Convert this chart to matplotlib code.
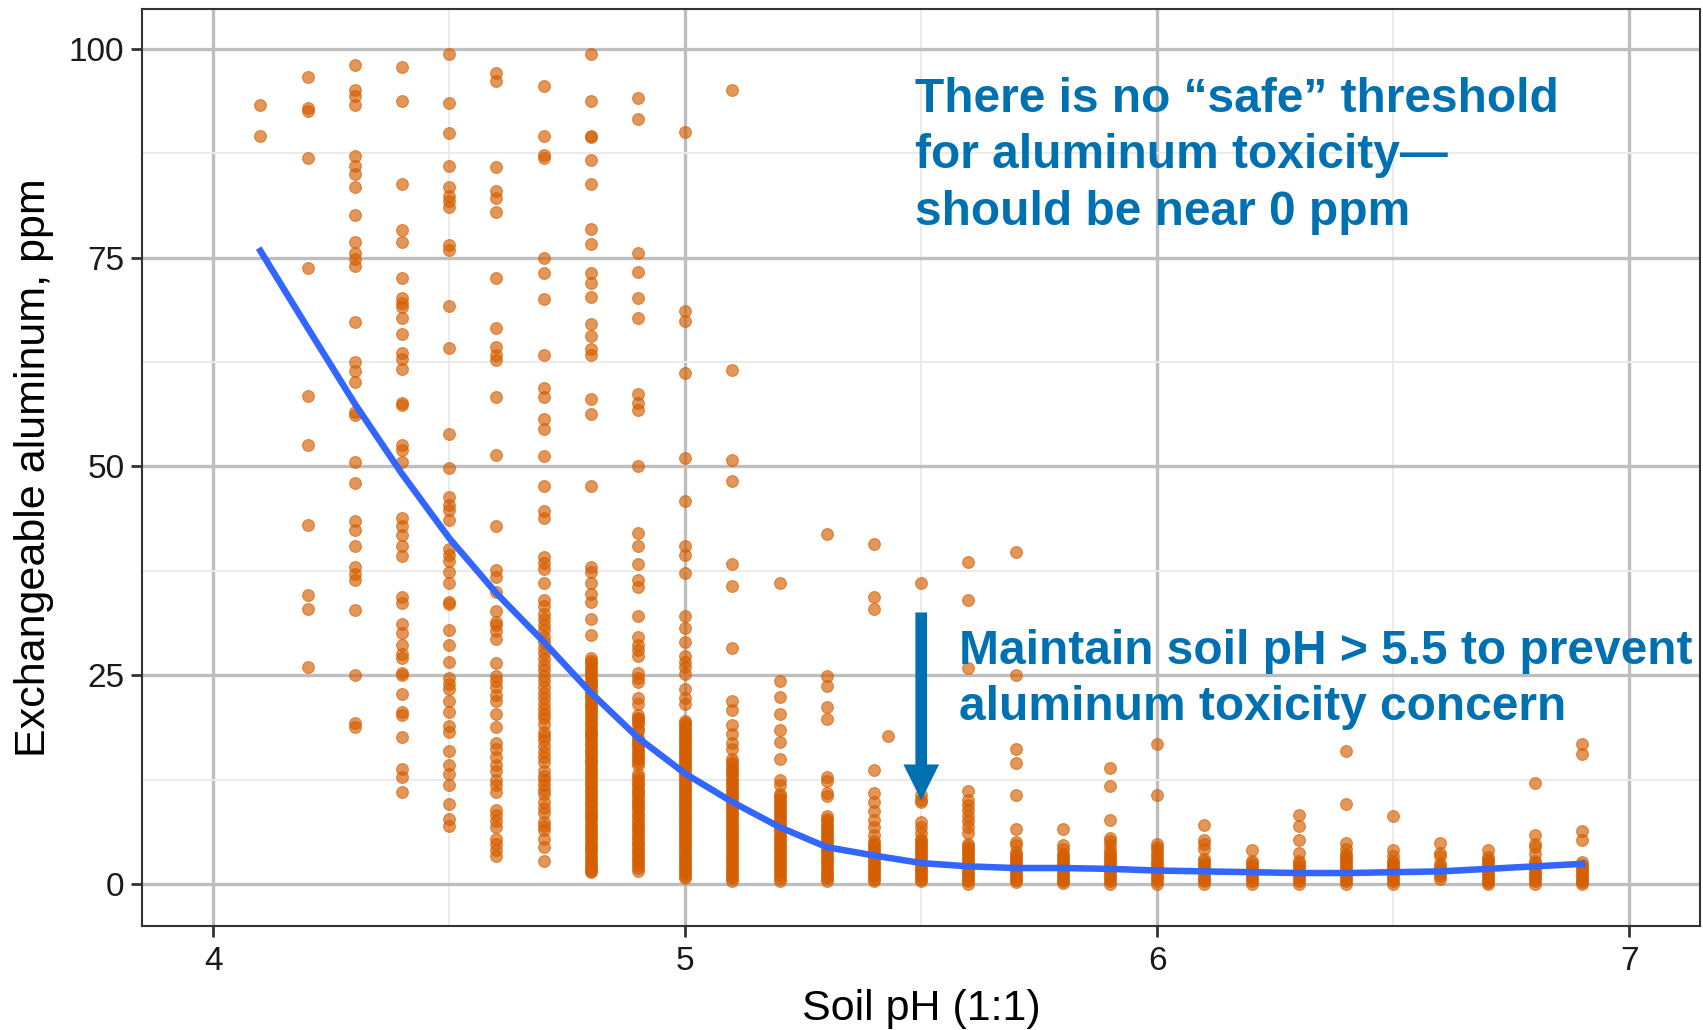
import matplotlib.pyplot as plt
from matplotlib.ticker import MultipleLocator

# exchangeable Al (ppm) measured at each soil pH value
al_4_1 = [93.3, 89.6]
al_4_2 = [96.6, 92.9, 92.5, 86.9, 73.8, 58.4, 52.6, 43.0, 34.6, 32.9, 26.0]
al_4_3 = [98.0, 95.1, 94.4, 93.3, 87.1, 86.0, 85.0, 83.5, 80.1, 76.9, 75.5, 74.8,
          74.0, 67.3, 62.5, 61.4, 60.1, 56.5, 56.2, 50.5, 48.0, 43.5, 42.4, 40.4,
          37.9, 37.1, 36.4, 32.8, 25.0, 19.3, 18.8]
al_4_4 = [97.8, 93.7, 83.8, 78.3, 76.9, 72.6, 70.1, 69.6, 69.1, 67.7, 65.8, 63.6,
          62.9, 61.7, 57.6, 57.3, 52.5, 52.0, 50.5, 43.8, 42.9, 41.8, 40.4, 39.3,
          34.4, 33.6, 31.1, 30.0, 28.6, 27.5, 27.0, 25.3, 25.0, 22.7, 20.6, 20.2,
          17.6, 13.8, 12.8, 11.0]
al_4_5 = [99.4, 93.5, 89.9, 86.0, 83.5, 82.4, 81.8, 81.1, 76.5, 75.9, 69.2, 64.2,
          53.9, 49.8, 46.3, 45.4, 44.8, 43.6, 40.1, 39.4, 38.7, 37.4, 36.0, 33.7,
          33.5, 30.4, 28.6, 26.6, 24.6, 23.9, 23.3, 21.9, 20.6, 18.9, 18.2, 15.9,
          14.2, 13.2, 11.8, 9.6, 7.8, 6.9]
al_4_6 = [97.1, 96.1, 85.8, 83.0, 82.1, 80.4, 72.5, 66.6, 64.3, 63.3, 62.7, 58.3,
          51.4, 42.8, 37.6, 36.7, 35.0, 32.7, 31.3, 31.0, 30.3, 29.3, 26.4, 24.9,
          24.3, 23.6, 22.6, 21.9, 20.4, 18.8, 16.9, 16.2, 15.2, 14.2, 13.5, 12.5,
          11.8, 11.0, 8.8, 8.2, 7.5, 6.8, 5.4, 4.8, 4.1, 3.4]
al_4_7 = [95.5, 89.6, 87.3, 86.9, 75.0, 73.2, 70.0, 63.3, 59.4, 58.3, 55.7, 54.5,
          51.2, 47.7, 44.6, 43.8, 39.2, 38.4, 37.7, 36.0, 34.0, 33.3, 32.3, 31.7,
          31.0, 30.4, 29.6, 29.0, 28.3, 27.6, 26.9, 26.2, 25.6, 24.9, 24.3, 23.6,
          22.9, 22.2, 21.6, 20.9, 20.4, 19.9, 19.2, 18.2, 17.7, 17.2, 16.5, 15.8,
          15.2, 14.6, 13.5, 12.9, 12.5, 11.8, 11.3, 10.8, 9.8, 9.1, 8.5, 7.4, 6.9,
          6.4, 5.4, 4.4, 2.7]
al_4_8 = [99.4, 93.7, 89.6, 89.4, 86.7, 83.8, 78.4, 76.6, 73.2, 71.9, 70.3, 67.0,
          65.6, 64.1, 63.3, 58.1, 56.3, 47.7, 38.0, 37.4, 36.0, 34.7, 33.7, 31.7,
          29.8, 27.0, 26.7, 26.4, 26.0, 25.7, 25.4, 25.1, 24.7, 24.3, 24.0, 23.8,
          23.4, 23.0, 22.7, 22.4, 22.0, 21.6, 21.4, 21.1, 20.7, 20.3, 20.0, 19.6,
          19.3, 19.0, 18.6, 18.2, 18.0, 17.7, 17.3, 16.9, 16.6, 16.2, 15.9, 15.6,
          15.3, 14.8, 14.6, 14.3, 13.9, 13.5, 13.2, 12.8, 12.5, 12.1, 11.8, 11.4,
          11.1, 10.8, 10.4, 10.0, 9.7, 9.4, 9.0, 8.6, 8.3, 8.0, 7.6, 7.2, 6.9, 6.6,
          6.2, 5.9, 5.5, 5.2, 4.8, 4.5, 4.2, 3.9, 3.5, 3.1, 2.8, 2.5, 2.1, 1.8,
          1.6, 1.4]
al_4_9 = [94.1, 91.6, 75.6, 73.3, 70.2, 67.8, 58.6, 57.6, 56.8, 50.0, 42.0, 40.5,
          38.3, 36.4, 35.5, 32.1, 29.6, 28.6, 28.0, 27.3, 25.3, 24.6, 24.2, 22.2,
          21.5, 20.2, 19.9, 19.7, 19.4, 19.1, 18.6, 18.3, 17.5, 17.2, 16.9, 16.6,
          16.3, 15.9, 15.6, 15.2, 14.9, 14.6, 14.2, 13.1, 12.8, 12.4, 12.1, 11.8,
          11.4, 11.1, 10.8, 10.5, 10.1, 9.8, 9.5, 9.2, 8.8, 8.4, 8.1, 7.7, 7.3,
          6.9, 6.6, 6.3, 5.9, 5.6, 5.2, 4.9, 4.6, 4.2, 3.9, 3.6, 3.2, 2.9, 2.6,
          2.3, 1.9, 1.6]
al_5_0 = [90.0, 68.6, 67.4, 61.2, 51.0, 45.8, 40.5, 39.4, 37.2, 32.1, 30.7, 29.0,
          27.3, 26.6, 26.0, 25.1, 23.3, 22.3, 21.6, 19.5, 19.3, 19.0, 18.7, 18.4,
          18.1, 17.8, 17.5, 17.2, 16.9, 16.6, 16.3, 16.0, 15.7, 15.4, 15.1, 14.8,
          14.5, 14.2, 13.9, 13.6, 13.3, 13.0, 12.7, 12.4, 12.1, 11.8, 11.5, 11.2,
          10.9, 10.6, 10.3, 10.0, 9.7, 9.4, 9.1, 8.8, 8.5, 8.2, 7.9, 7.6, 7.3, 7.0,
          6.7, 6.4, 6.1, 5.8, 5.5, 5.2, 4.9, 4.6, 4.3, 4.0, 3.7, 3.4, 3.1, 2.8,
          2.5, 2.2, 1.9, 1.6, 1.3, 1.0, 0.7]
al_5_1 = [95.1, 61.5, 50.8, 48.3, 38.3, 35.7, 28.2, 21.9, 20.8, 19.0, 17.9, 16.9,
          16.1, 14.9, 14.6, 14.3, 13.9, 13.6, 13.3, 13.0, 12.6, 12.3, 12.0, 11.7,
          11.3, 11.0, 10.7, 10.4, 10.0, 9.7, 9.4, 9.1, 8.7, 8.4, 8.1, 7.8, 7.4,
          7.1, 6.8, 6.5, 6.1, 5.8, 5.5, 5.2, 4.8, 4.5, 4.2, 3.9, 3.5, 3.2, 2.9,
          2.6, 2.2, 1.9, 1.6, 1.3, 1.0, 0.7, 0.4]
al_5_2 = [36.0, 24.3, 22.4, 20.4, 18.4, 17.0, 15.0, 12.5, 11.8, 10.8, 10.5, 10.2,
          9.8, 9.5, 9.2, 8.9, 8.5, 8.2, 7.9, 7.6, 7.2, 6.9, 6.6, 6.3, 5.9, 5.6,
          5.3, 5.0, 4.6, 4.3, 4.0, 3.7, 3.3, 3.0, 2.7, 2.4, 2.0, 1.7, 1.4, 1.1,
          0.7, 0.4]
al_5_3 = [41.9, 24.9, 23.7, 21.2, 19.7, 12.8, 12.3, 10.9, 10.5, 8.1, 7.8, 7.5,
          7.1, 6.8, 6.5, 6.2, 5.8, 5.5, 5.2, 4.9, 4.5, 4.2, 3.9, 3.6, 3.2, 2.9,
          2.6, 2.3, 1.9, 1.6, 1.3, 1.0, 0.7, 0.4]
al_5_4 = [40.7, 34.4, 32.9, 13.6, 10.9, 9.8, 8.7, 7.6, 6.8, 5.8, 5.1, 4.8, 4.5,
          4.2, 3.9, 3.6, 3.3, 3.0, 2.7, 2.4, 2.1, 1.8, 1.5, 1.2, 0.9, 0.6, 0.4]
al_5_5 = [36.0, 10.7, 10.1, 9.8, 7.4, 6.8, 6.1, 5.4, 5.1, 4.8, 4.5, 4.2, 3.9,
          3.6, 3.3, 3.0, 2.7, 2.4, 2.1, 1.8, 1.5, 1.2, 0.9, 0.6, 0.4]
al_5_6 = [38.5, 34.0, 25.9, 11.1, 10.1, 9.5, 8.8, 8.1, 7.5, 6.8, 6.1, 4.8, 4.5,
          4.2, 3.9, 3.6, 3.3, 3.0, 2.7, 2.4, 2.1, 1.8, 1.5, 1.2, 0.9, 0.6, 0.3,
          0.0]
al_5_7 = [39.7, 25.0, 16.1, 14.5, 10.6, 6.6, 5.0, 4.6, 3.8, 3.5, 3.2, 2.9, 2.6,
          2.3, 2.0, 1.7, 1.4, 1.1, 0.8, 0.5, 0.2]
al_5_8 = [6.6, 4.6, 4.2, 3.6, 3.3, 3.0, 2.7, 2.4, 2.1, 1.8, 1.5, 1.2, 0.9, 0.6,
          0.3, 0.1]
al_5_9 = [13.9, 11.7, 7.7, 5.5, 5.1, 4.6, 4.0, 3.7, 3.4, 3.1, 2.8, 2.5, 2.2,
          1.9, 1.6, 1.3, 1.0, 0.7, 0.4, 0.0]
al_6_0 = [16.8, 10.7, 4.8, 4.4, 4.0, 3.6, 3.2, 2.8, 2.5, 2.2, 1.9, 1.6, 1.3,
          1.0, 0.7, 0.4, 0.0]
al_6_1 = [7.0, 5.2, 4.8, 4.2, 3.0, 2.7, 2.4, 2.1, 1.8, 1.5, 1.2, 0.9, 0.6,
          0.3, 0.0]
al_6_2 = [4.0, 2.8, 2.5, 2.2, 1.9, 1.6, 1.3, 1.0, 0.7, 0.4, 0.0]
al_6_3 = [8.3, 6.9, 5.3, 3.7, 2.8, 2.5, 2.2, 1.9, 1.6, 1.3, 1.0, 0.7, 0.4, 0.0]
al_6_4 = [15.9, 9.6, 4.9, 4.2, 3.6, 3.3, 3.0, 2.7, 2.4, 2.1, 1.8, 1.5, 1.2,
          0.9, 0.6, 0.3, 0.0]
al_6_5 = [8.1, 4.1, 3.4, 2.8, 2.5, 2.2, 1.9, 1.6, 1.3, 1.0, 0.7, 0.4, 0.0]
al_6_6 = [4.9, 3.7, 3.4, 2.4, 2.1, 1.8, 1.5, 1.2, 0.9, 0.6]
al_6_7 = [4.1, 3.2, 2.9, 2.6, 2.3, 2.0, 1.7, 1.4, 1.1, 0.8, 0.5, 0.2, 0.0]
al_6_8 = [12.1, 5.9, 4.8, 4.4, 3.6, 2.8, 2.5, 2.2, 1.9, 1.6, 1.3, 1.0, 0.7,
          0.4, 0.0]
al_6_9 = [16.7, 15.6, 6.3, 5.3, 2.6, 2.3, 2.0, 1.7, 1.4, 1.1, 0.8, 0.5, 0.2, 0.0]

# odd sample off the 0.1 pH grid
extra_ph = [5.43]
extra_al = [17.7]

# loess trend
smooth_ph = [4.1, 4.2, 4.3, 4.4, 4.5, 4.6, 4.7, 4.8, 4.9, 5.0, 5.1, 5.2, 5.3, 5.4,
             5.5, 5.6, 5.7, 5.8, 5.9, 6.0, 6.1, 6.2, 6.3, 6.4, 6.5, 6.6, 6.7, 6.8, 6.9]
smooth_al = [75.8, 66.6, 57.5, 49.1, 41.4, 34.8, 29.0, 22.9, 17.5, 13.2, 9.8, 6.8,
             4.4, 3.4, 2.5, 2.1, 1.9, 1.9, 1.8, 1.6, 1.5, 1.4, 1.3, 1.3, 1.4, 1.5,
             1.8, 2.1, 2.4]

columns = [(4.1, al_4_1), (4.2, al_4_2), (4.3, al_4_3), (4.4, al_4_4), (4.5, al_4_5),
           (4.6, al_4_6), (4.7, al_4_7), (4.8, al_4_8), (4.9, al_4_9), (5.0, al_5_0),
           (5.1, al_5_1), (5.2, al_5_2), (5.3, al_5_3), (5.4, al_5_4), (5.5, al_5_5),
           (5.6, al_5_6), (5.7, al_5_7), (5.8, al_5_8), (5.9, al_5_9), (6.0, al_6_0),
           (6.1, al_6_1), (6.2, al_6_2), (6.3, al_6_3), (6.4, al_6_4), (6.5, al_6_5),
           (6.6, al_6_6), (6.7, al_6_7), (6.8, al_6_8), (6.9, al_6_9)]

ph = [p for p, vals in columns for _ in vals] + extra_ph
al = [v for _, vals in columns for v in vals] + extra_al

plt.rcParams['font.family'] = ['Liberation Sans', 'DejaVu Sans']

note_blue = '#0071B0'

fig = plt.figure(figsize=(17.03, 10.30), dpi=100)
ax = fig.add_axes([0.0836, 0.1013, 0.9147, 0.8903])

ax.scatter(ph, al, s=72, color='#D55E00', alpha=0.65, edgecolors='#D55E00',
           linewidths=0.8, zorder=3)
ax.plot(smooth_ph, smooth_al, color='#3366FF', lw=4.7, zorder=4)

ax.set_xlim(3.85, 7.15)
ax.set_ylim(-5.0, 104.8)
ax.xaxis.set_major_locator(MultipleLocator(1))
ax.xaxis.set_minor_locator(MultipleLocator(0.5))
ax.yaxis.set_major_locator(MultipleLocator(25))
ax.yaxis.set_minor_locator(MultipleLocator(12.5))

ax.grid(which='major', color='#BEBEBE', lw=2.4, zorder=0)
ax.grid(which='minor', color='#EBEBEB', lw=1.4, zorder=0)
ax.set_axisbelow(True)
for s in ax.spines.values():
    s.set_color('#333333')
    s.set_linewidth(1.5)

ax.tick_params(which='major', length=8, width=2, color='#333333',
               labelsize=24, labelcolor='#1a1a1a')
ax.tick_params(axis='x', pad=7)
ax.tick_params(axis='y', pad=5)
ax.tick_params(which='minor', length=0)

ax.set_xlabel('Soil pH (1:1)', fontsize=31, labelpad=8)
ax.set_ylabel('Exchangeable aluminum, ppm', fontsize=31, labelpad=11)

ax.text(5.487, 87.2, 'There is no \u201csafe\u201d threshold\nfor aluminum toxicity\u2014\nshould be near 0 ppm',
        color=note_blue, fontsize=34.5, fontweight='bold', ha='left', va='center',
        linespacing=1.33, zorder=5)
ax.text(5.58, 24.5, 'Maintain soil pH > 5.5 to prevent\naluminum toxicity concern',
        color=note_blue, fontsize=34.5, fontweight='bold', ha='left', va='center',
        linespacing=1.33, zorder=5)

ax.arrow(5.5, 32.5, 0, -22.5, width=0.0248, head_width=0.0756, head_length=4.3,
         length_includes_head=True, color=note_blue, lw=0, zorder=5)

fig.savefig('out.png', dpi=100)
